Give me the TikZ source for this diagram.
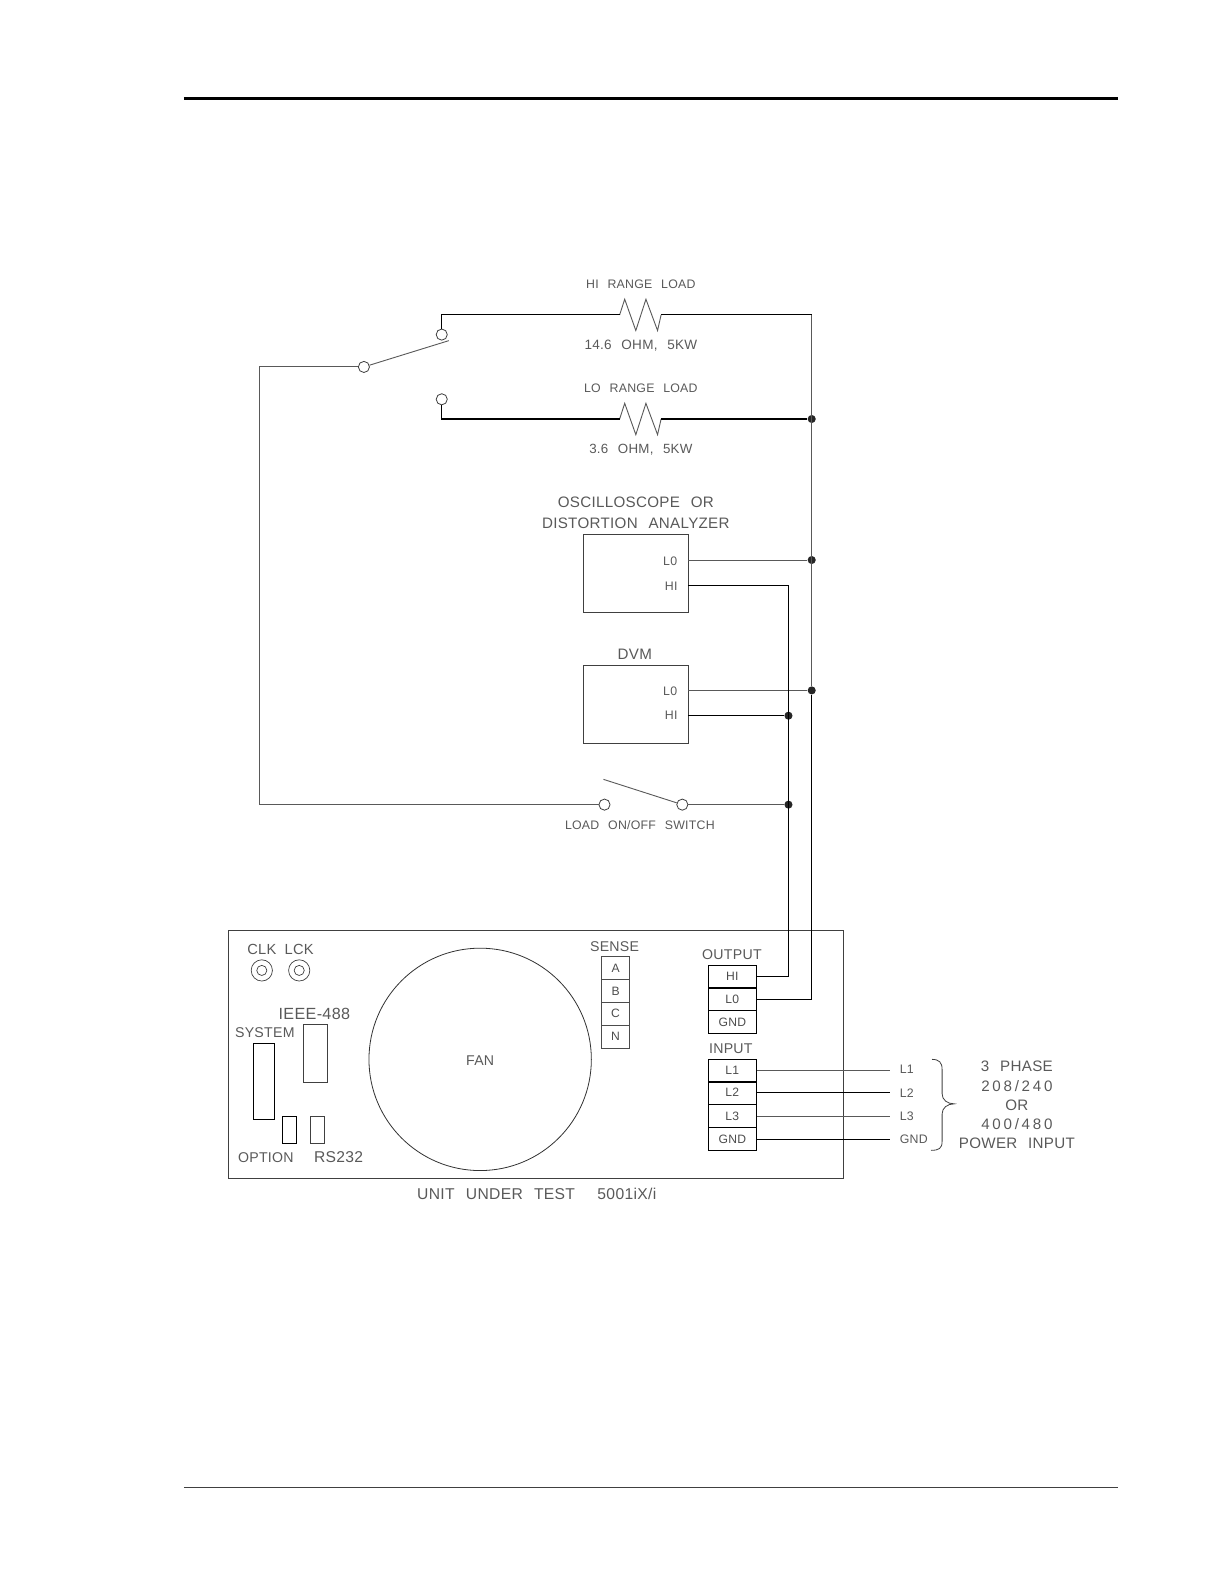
\documentclass[tikz,border=0pt]{standalone}
\usepackage{fontspec}
\setmainfont[LetterSpace=2,WordSpace=2.4]{Liberation Sans}
\tikzset{
    wire/.style={draw=black!65,line width=0.9pt},
    hotwire/.style={draw=black,line width=1.2pt},
    lbl/.style={inner sep=0pt,text=black!65,font=\fontsize{#1}{#1}\selectfont},
    lbl/.default=12.2,
    term/.style={shape=circle,draw=black!75,line width=0.8pt,fill=white,inner sep=0pt,minimum size=11pt},
    dot/.style={shape=circle,fill=black!85,inner sep=0pt,minimum size=8pt},
    instr/.style={shape=rectangle,draw=black!75,line width=0.9pt,inner sep=0pt,minimum width=104pt,minimum height=77pt},
    cell/.style={shape=rectangle,draw=black,line width=0.9pt,inner sep=0pt,text=black!70,font=\fontsize{12}{12}\selectfont,minimum width=47pt,minimum height=22.7pt},
    sensecell/.style={cell,draw=black!70,minimum width=28pt},
    port/.style={shape=rectangle,draw=black!75,line width=0.9pt,inner sep=0pt}
}
\begin{document}
\begin{tikzpicture}[x=1pt,y=-1pt]
    \useasboundingbox (0,0) rectangle (1212,1568);

    \coordinate (ruleTL) at (182,97);
    \coordinate (ruleTR) at (1106,97);
    \coordinate (ruleBL) at (182,1471);
    \coordinate (ruleBR) at (1106,1471);
    \path [draw=black,line width=3pt](ruleTL) edge (ruleTR);
    \path [draw=black!75,line width=0.9pt](ruleBL) edge (ruleBR);

    % loads
    \node[lbl] (hiT) at (634,281) {HI RANGE LOAD};
    \node[lbl=13.4] (hiV) at (634,342) {14.6 OHM, 5KW};
    \node[lbl] (loT) at (634,384) {LO RANGE LOAD};
    \node[lbl=13.2] (loV) at (634,445) {3.6 OHM, 5KW};
    \foreach \r/\y in {hi/311.5,lo/414.5}{
        \coordinate (\r A) at (613,\y);
        \coordinate (\r B) at (654,\y);
        \draw[wire] (\r A) -- ++(5,-15.5) -- ++(11,31) -- ++(10,-31) -- ++(11.5,31) -- (\r B);
    }

    % range switch
    \node[term] (sw) at (360,363) {};
    \node[term] (swHi) at (437,331) {};
    \node[term] (swLo) at (437,395) {};
    \coordinate (swArm) at (444,337);
    \coordinate (cornerA) at (257,363);
    \coordinate (cornerB) at (257,796);
    \draw[wire] (sw) -- (swArm);
    \draw[hotwire] (swHi) |- (hiA);
    \draw[hotwire] (swLo) |- (loA);

    % return bus
    \node[dot] (busLoad) at (803,414.5) {};
    \node[dot] (busScope) at (803,554) {};
    \node[dot] (busDvm) at (803,683) {};
    \coordinate (busTop) at (803,311.5);
    \draw[hotwire] (hiB) -- (busTop);
    \draw[hotwire] (loB) -- (busLoad);
    \draw[wire] (busTop) -- (busDvm);

    % instruments
    \node[instr] (scope) at (629,567.5) {};
    \node[instr] (dvm) at (629,696.5) {};
    \node[lbl=15] (scopeT) at (629,497) {OSCILLOSCOPE OR};
    \node[lbl=15] (scopeU) at (629,518) {DISTORTION ANALYZER};
    \node[lbl=15] (dvmT) at (628,647) {DVM};
    \node[lbl] (scopeLo) at (663,555) {L0};
    \node[lbl] (scopeHi) at (664,580) {HI};
    \node[lbl] (dvmLo) at (663,684) {L0};
    \node[lbl] (dvmHi) at (664,708) {HI};
    \coordinate (scopeLoP) at (681,554);
    \coordinate (scopeHiP) at (681,579);
    \coordinate (dvmLoP) at (681,683);
    \coordinate (dvmHiP) at (681,708);
    \node[dot] (feedDvm) at (780,708) {};
    \node[dot] (feedSw) at (780,796) {};
    \coordinate (feedTop) at (780,579);

    % load switch
    \node[term] (onA) at (598,796) {};
    \node[term] (onB) at (675,796) {};
    \coordinate (onArm) at (597,771);
    \node[lbl] (onT) at (633,816) {LOAD ON/OFF SWITCH};
    \draw[wire] (onB) -- (onArm);
    \draw[wire] (sw) -- (cornerA) -- (cornerB) -- (onA);
    \draw[wire] (onB) -- (feedSw);

    % unit under test
    \node[shape=rectangle,draw=black!75,line width=0.9pt,inner sep=0pt,minimum width=608pt,minimum height=246pt] (unit) at (530,1043) {};
    \node[lbl=15.5] (unitT) at (531,1181) {UNIT UNDER TEST \ 5001iX/i};
    \node[shape=circle,draw=black!80,line width=0.8pt,inner sep=0pt,minimum size=220pt] (fan) at (475,1048) {};
    \node[lbl=14] (fanT) at (475,1049) {FAN};
    \node[lbl=14.5] (clkT) at (259,939) {CLK};
    \node[lbl=14.5] (lckT) at (296,939) {LCK};
    \foreach \n/\x in {clk/259,lck/296}{
        \node[shape=circle,draw=black!75,line width=0.7pt,inner sep=0pt,minimum size=21pt] (\n) at (\x,960) {};
        \node[shape=circle,draw=black!75,line width=0.7pt,inner sep=0pt,minimum size=10pt] (\n I) at (\x,960) {};
    }
    \node[lbl=16] (ieeeT) at (311,1003) {IEEE-488};
    \node[lbl=14] (sysT) at (262,1022) {SYSTEM};
    \node[lbl=14] (optT) at (263,1145) {OPTION};
    \node[lbl=15.5] (rsT) at (335,1145) {RS232};
    \node[port,minimum width=23pt,minimum height=58pt] (ieee) at (312,1042) {};
    \node[port,draw=black,minimum width=21pt,minimum height=75pt] (sys) at (261,1069.5) {};
    \node[port,draw=black,minimum width=14pt,minimum height=27pt] (opt) at (286.5,1118) {};
    \node[port,minimum width=14pt,minimum height=27pt] (rs) at (314,1118) {};

    % sense block
    \node[lbl=14] (senseT) at (608,936) {SENSE};
    \foreach \t [count=\i from 0] in {A,B,C,N}{
        \node[sensecell] (sense\t) at (609,957.5+22.7*\i) {\t};
    }

    % output and input blocks
    \node[lbl=14] (outT) at (724,944) {OUTPUT};
    \node[cell] (outHI) at (724.5,966) {HI};
    \node[cell] (outLO) at (724.5,988.5) {L0};
    \node[cell] (outGND) at (724.5,1011) {GND};
    \node[lbl=14] (inT) at (723,1037) {INPUT};
    \node[cell] (inA) at (724.5,1059) {L1};
    \node[cell] (inB) at (724.5,1081) {L2};
    \node[cell] (inC) at (724.5,1104) {L3};
    \node[cell] (inG) at (724.5,1127) {GND};

    % outside wiring
    \draw[wire] (scopeLoP) -- (busScope);
    \draw[wire] (dvmLoP) -- (busDvm);
    \draw[hotwire] (dvmHiP) -- (feedDvm);
    \draw[hotwire] (scopeHiP) -- (feedTop) |- (outHI.east);
    \draw[draw=black,line width=1pt] (busDvm) |- (outLO.east);

    % mains
    \node[lbl] (mA) at (897,1058) {L1};
    \node[lbl] (mB) at (897,1081) {L2};
    \node[lbl] (mC) at (897,1104) {L3};
    \node[lbl] (mG) at (904,1127) {GND};
    \coordinate (endA) at (880,1059);
    \coordinate (endB) at (880,1081);
    \coordinate (endC) at (880,1104);
    \coordinate (endG) at (880,1127);
    \draw[wire] (inA.east) -- (endA);
    \draw[hotwire] (inB.east) -- (endB);
    \draw[wire] (inC.east) -- (endC);
    \draw[hotwire] (inG.east) -- (endG);
    \draw[draw=black!75,line width=0.8pt] (922,1048) .. controls (929,1048) and (932,1051) .. (932,1058) -- (932,1082) .. controls (932,1088) and (937,1092) .. (944,1092) .. controls (937,1092) and (932,1096) .. (932,1102) -- (932,1129) .. controls (932,1136) and (929,1138) .. (921,1138);
    \node[lbl=15] (phA) at (1006,1055) {3 PHASE};
    \node[lbl=15] (phB) at (1006,1074) {\addfontfeature{LetterSpace=18}208/240};
    \node[lbl=15] (phC) at (1006,1093) {OR};
    \node[lbl=15] (phD) at (1006,1112) {\addfontfeature{LetterSpace=18}400/480};
    \node[lbl=15] (phE) at (1006,1131) {POWER INPUT};
\end{tikzpicture}
\end{document}
